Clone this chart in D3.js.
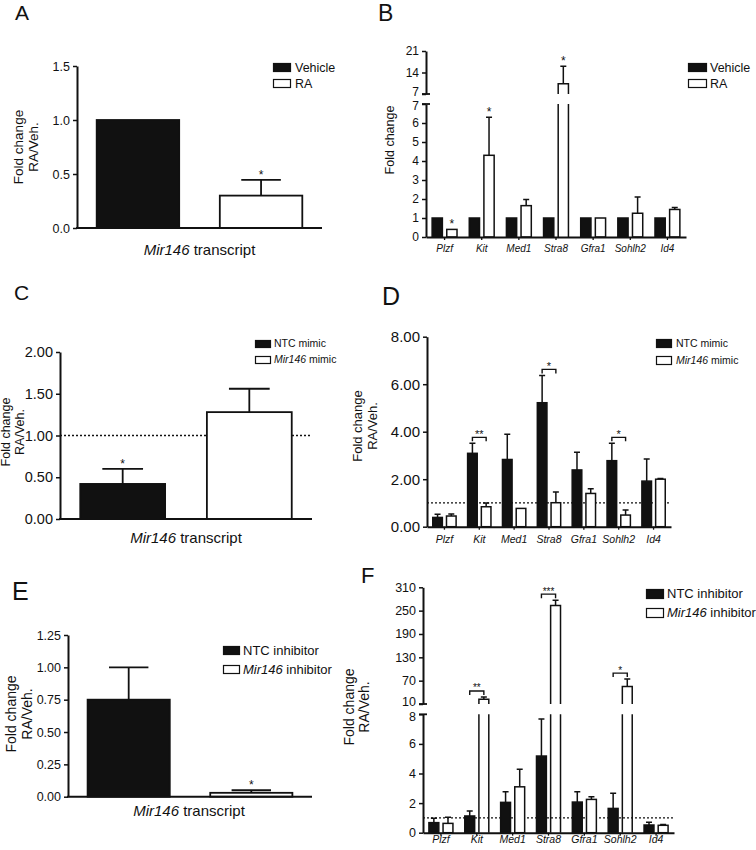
<!DOCTYPE html>
<html>
<head>
<meta charset="utf-8">
<script src="https://cdn.jsdelivr.net/npm/d3@7"></script>
<style>
  body { margin: 0; background: #fff; }
  svg { display: block; font-family: "Liberation Sans", Arial, sans-serif; }
</style>
</head>
<body>
<div id="fig"></div>
<script>
// ---- data ----
const genes = ["Plzf", "Kit", "Med1", "Stra8", "Gfra1", "Sohlh2", "Id4"];

// A
const aSeries = ["Vehicle", "RA"];
const aMean = [1.0, 0.30];
const aSem = [0, 0.145];
const aStars = ["", "*"];
const aTicks = [0, 0.5, 1.0, 1.5];

// B
const bSeries = ["Vehicle", "RA"];
const bVehicle = [1, 1, 1, 1, 1, 1, 1];
const bVehicleSem = [0, 0, 0, 0, 0, 0, 0];
const bRA = [0.4, 4.3, 1.65, 10.3, 1.0, 1.25, 1.45];
const bRASem = [0, 2.0, 0.32, 5.7, 0, 0.85, 0.1];
const bStars = ["*", "*", "", "*", "", "", ""];
const bTicksLow = [0, 1, 2, 3, 4, 5, 6, 7];
const bTicksHigh = [7, 14, 21];

// C
const cSeries = ["NTC mimic", "Mir146 mimic"];
const cMean = [0.42, 1.28];
const cSem = [0.18, 0.28];
const cStars = ["*", ""];
const cTicks = [0, 0.5, 1.0, 1.5, 2.0];

// D
const dSeries = ["NTC mimic", "Mir146 mimic"];
const dNTC = [0.39, 3.09, 2.83, 5.22, 2.39, 2.78, 1.92];
const dNTCSem = [0.13, 0.42, 1.06, 1.15, 0.74, 0.73, 0.93];
const dMimic = [0.45, 0.84, 0.77, 1.01, 1.40, 0.49, 2.0];
const dMimicSem = [0.08, 0.16, 0, 0.45, 0.2, 0.21, 0.03];
const dStars = ["", "**", "", "*", "", "*", ""];
const dTicks = [0, 2, 4, 6, 8];

// E
const eSeries = ["NTC inhibitor", "Mir146 inhibitor"];
const eMean = [0.75, 0.03];
const eSem = [0.25, 0.02];
const eStars = ["", "*"];
const eTicks = [0, 0.25, 0.5, 0.75, 1.0, 1.25];

// F
const fSeries = ["NTC inhibitor", "Mir146 inhibitor"];
const fNTC = [0.68, 1.13, 2.05, 5.18, 2.07, 1.64, 0.52];
const fNTCSem = [0.29, 0.33, 0.72, 2.5, 0.7, 1.02, 0.18];
const fInhib = [0.63, 22, 3.1, 263, 2.25, 55, 0.5];
const fInhibSem = [0.41, 6, 1.18, 14, 0.18, 19, 0.06];
const fStars = ["", "**", "", "***", "", "*", ""];
const fTicksLow = [0, 2, 4, 6, 8];
const fTicksHigh = [10, 70, 130, 190, 250, 310];

// ---- drawing ----
const svg = d3.select("#fig").append("svg")
    .attr("width", 756)
    .attr("height", 850);

svg.append("rect").attr("width", 756).attr("height", 850).attr("fill", "#fff");

const ink = "#111";

function panelLetter(t, x, y, size) {
    svg.append("text").attr("x", x).attr("y", y)
        .attr("font-size", size).attr("fill", ink).text(t);
}

// label with an italic "Mir146" part
function richLabel(sel, label) {
    if (label.startsWith("Mir146")) {
        sel.append("tspan").attr("font-style", "italic").text("Mir146");
        sel.append("tspan").text(label.slice(6));
    } else {
        sel.text(label);
    }
}

function legend(series, o) {
    const g = svg.append("g").attr("transform", `translate(${o.x},${o.y})`);
    series.forEach((s, i) => {
        g.append("rect")
            .attr("x", 0.5).attr("y", i * o.gap + 0.5)
            .attr("width", o.w).attr("height", o.h)
            .attr("fill", i === 0 ? ink : "#fff")
            .attr("stroke", ink).attr("stroke-width", 1.2);
        const t = g.append("text")
            .attr("x", o.w + o.dx)
            .attr("y", i * o.gap + o.h / 2 + o.size * 0.36)
            .attr("font-size", o.size).attr("fill", ink);
        richLabel(t, s);
    });
}

function yLabel(lines, cx, cy, size, lh) {
    const g = svg.append("g").attr("transform", `translate(${cx},${cy}) rotate(-90)`);
    lines.forEach((l, i) => {
        g.append("text").attr("x", 0).attr("y", i * lh)
            .attr("text-anchor", "middle")
            .attr("font-size", size).attr("fill", ink).text(l);
    });
}

function styleAxis(g, fontSize) {
    g.select(".domain").attr("stroke", ink).attr("stroke-width", 2);
    g.selectAll(".tick line").attr("stroke", ink).attr("stroke-width", 1.5);
    g.selectAll(".tick text").attr("font-size", fontSize).attr("fill", ink)
        .attr("font-family", "Liberation Sans, Arial, sans-serif");
}

// one-comparison panels (A, C, E)
function singlePanel(cfg) {
    const y = d3.scaleLinear().domain(cfg.domain).range([cfg.yBottom, cfg.yTop]);
    const x = d3.scaleBand().domain(cfg.series).range([cfg.x0, cfg.x1])
        .paddingInner(0.33).paddingOuter(0.16);
    const g = svg.append("g");

    if (cfg.refLine != null) {
        g.append("line")
            .attr("x1", cfg.x0).attr("x2", cfg.x1)
            .attr("y1", y(cfg.refLine)).attr("y2", y(cfg.refLine))
            .attr("stroke", ink).attr("stroke-width", 1.3)
            .attr("stroke-dasharray", "2,2");
    }

    const data = cfg.series.map((s, i) => ({ s, m: cfg.mean[i], e: cfg.sem[i], star: cfg.stars[i], i }));

    g.selectAll(".err").data(data.filter(d => d.e > 0)).join("path")
        .attr("class", "err")
        .attr("d", d => {
            const cx = x(d.s) + x.bandwidth() / 2, hw = x.bandwidth() * 0.24;
            return `M${cx},${y(d.m)}V${y(d.m + d.e)}M${cx - hw},${y(d.m + d.e)}H${cx + hw}`;
        })
        .attr("stroke", ink).attr("stroke-width", 1.8).attr("fill", "none");

    g.selectAll(".bar").data(data).join("rect")
        .attr("class", "bar")
        .attr("x", d => x(d.s))
        .attr("y", d => y(d.m))
        .attr("width", x.bandwidth())
        .attr("height", d => cfg.yBottom - y(d.m))
        .attr("fill", d => d.i === 0 ? ink : "#fff")
        .attr("stroke", ink).attr("stroke-width", 1.8);

    g.selectAll(".star").data(data.filter(d => d.star)).join("text")
        .attr("class", "star")
        .attr("x", d => x(d.s) + x.bandwidth() / 2)
        .attr("y", d => y(d.m + d.e) - 1)
        .attr("text-anchor", "middle")
        .attr("font-size", 12).attr("fill", ink)
        .text(d => d.star);

    const ax = g.append("g").attr("transform", `translate(${cfg.x0},0)`)
        .call(d3.axisLeft(y).tickValues(cfg.ticks).tickFormat(cfg.fmt).tickSize(4).tickSizeOuter(0));
    styleAxis(ax, cfg.tickSize);

    g.append("line")
        .attr("x1", cfg.x0 - 1).attr("x2", cfg.x1)
        .attr("y1", cfg.yBottom).attr("y2", cfg.yBottom)
        .attr("stroke", ink).attr("stroke-width", 2);

    const t = g.append("text")
        .attr("x", (cfg.x0 + cfg.x1) / 2 + cfg.xlDx).attr("y", cfg.xlY)
        .attr("text-anchor", "middle").attr("font-size", 15).attr("fill", ink);
    richLabel(t, "Mir146 transcript");
}

// gene panels (B, D, F), optional broken axis
function groupedPanel(cfg) {
    const yL = d3.scaleLinear().domain(cfg.low.domain).range(cfg.low.range);
    const yH = cfg.high ? d3.scaleLinear().domain(cfg.high.domain).range(cfg.high.range) : null;
    const lowMax = cfg.low.domain[1];
    const base = cfg.low.range[0];
    const yv = v => (yH && v > lowMax) ? yH(v) : yL(v);

    const x0 = d3.scaleBand().domain(genes).range([cfg.x0, cfg.x1])
        .paddingInner(0.33).paddingOuter(0.165);
    const x1 = d3.scaleBand().domain([0, 1]).range([0, x0.bandwidth()]).paddingInner(0.3);
    const bw = x1.bandwidth();

    const g = svg.append("g");

    if (cfg.refLine != null) {
        g.append("line")
            .attr("x1", cfg.x0).attr("x2", cfg.x1)
            .attr("y1", yL(cfg.refLine)).attr("y2", yL(cfg.refLine))
            .attr("stroke", ink).attr("stroke-width", 1.3)
            .attr("stroke-dasharray", "2,2");
    }

    const bars = [];
    genes.forEach((gene, gi) => {
        [0, 1].forEach(si => {
            bars.push({
                gene, gi, si,
                m: cfg.vals[si][gi], e: cfg.sems[si][gi],
                xl: x0(gene) + x1(si)
            });
        });
    });

    // error bars
    g.selectAll(".err").data(bars.filter(d => d.e > 0)).join("path")
        .attr("class", "err")
        .attr("d", d => {
            const cx = d.xl + bw / 2, top = yv(d.m + d.e);
            return `M${cx},${yv(d.m)}V${top}M${cx - 3},${top}H${cx + 3}`;
        })
        .attr("stroke", ink).attr("stroke-width", 1.5).attr("fill", "none");

    // bars within the lower segment
    g.selectAll(".bar").data(bars.filter(d => !yH || d.m <= lowMax)).join("rect")
        .attr("class", "bar")
        .attr("x", d => d.xl).attr("y", d => yL(d.m))
        .attr("width", bw).attr("height", d => base - yL(d.m))
        .attr("fill", d => d.si === 0 ? ink : "#fff")
        .attr("stroke", ink).attr("stroke-width", 1.5);

    // bars crossing the break
    if (yH) {
        const tall = bars.filter(d => d.m > lowMax);
        g.selectAll(".tallLow").data(tall).join("path")
            .attr("class", "tallLow")
            .attr("d", d => `M${d.xl},${base}V${yL(lowMax)}M${d.xl + bw},${base}V${yL(lowMax)}`)
            .attr("stroke", ink).attr("stroke-width", 1.5).attr("fill", "none");
        g.selectAll(".tallHigh").data(tall).join("path")
            .attr("class", "tallHigh")
            .attr("d", d => `M${d.xl},${yH(cfg.high.domain[0])}V${yH(d.m)}H${d.xl + bw}V${yH(cfg.high.domain[0])}`)
            .attr("stroke", ink).attr("stroke-width", 1.5).attr("fill", "#fff");
    }

    // significance marks
    genes.forEach((gene, gi) => {
        const star = cfg.stars[gi];
        if (!star) return;
        const c0 = x0(gene) + x1(0) + bw / 2, c1 = x0(gene) + x1(1) + bw / 2;
        if (cfg.bracket) {
            const t0 = yv(cfg.vals[0][gi] + cfg.sems[0][gi]);
            const t1 = yv(cfg.vals[1][gi] + cfg.sems[1][gi]);
            const by = Math.min(t0, t1) - 6;
            g.append("path")
                .attr("d", `M${c0},${by + 4}V${by}H${c1}V${by + 4}`)
                .attr("stroke", ink).attr("stroke-width", 1.4).attr("fill", "none");
            g.append("text").attr("x", (c0 + c1) / 2).attr("y", by + 0.5)
                .attr("text-anchor", "middle").attr("font-size", cfg.starSize)
                .attr("fill", ink).text(star);
        } else {
            const tip = yv(cfg.vals[1][gi] + cfg.sems[1][gi]);
            g.append("text").attr("x", c1).attr("y", tip - 1.5)
                .attr("text-anchor", "middle").attr("font-size", cfg.starSize)
                .attr("fill", ink).text(star);
        }
    });

    // y axes
    const axL = g.append("g").attr("transform", `translate(${cfg.x0},0)`)
        .call(d3.axisLeft(yL).tickValues(cfg.low.ticks).tickFormat(cfg.fmt).tickSize(4).tickSizeOuter(0));
    styleAxis(axL, cfg.tickSize);
    if (yH) {
        const axH = g.append("g").attr("transform", `translate(${cfg.x0},0)`)
            .call(d3.axisLeft(yH).tickValues(cfg.high.ticks).tickFormat(cfg.fmt).tickSize(4).tickSizeOuter(0));
        styleAxis(axH, cfg.tickSize);
        // the two labels at the break sit close; nudge them apart a little
        axH.selectAll(".tick text").filter(d => d === cfg.high.domain[0]).attr("y", -2.5);
        axL.selectAll(".tick text").filter(d => d === lowMax).attr("y", 2);
        [cfg.high.range[0], cfg.low.range[1]].forEach(py => {
            g.append("line").attr("x1", cfg.x0 - 4).attr("x2", cfg.x0 + 4)
                .attr("y1", py).attr("y2", py)
                .attr("stroke", ink).attr("stroke-width", 1.8);
        });
    }

    // x axis with gene ticks
    const axB = g.append("g").attr("transform", `translate(0,${base})`)
        .call(d3.axisBottom(x0).tickSize(3).tickSizeOuter(0));
    axB.select(".domain").attr("stroke", ink).attr("stroke-width", 2);
    axB.selectAll(".tick line").attr("stroke", ink).attr("stroke-width", 1.3);
    axB.selectAll(".tick text").remove();
    g.selectAll(".gene").data(genes).join("text")
        .attr("class", "gene")
        .attr("x", d => x0(d) + x0.bandwidth() / 2)
        .attr("y", cfg.geneY)
        .attr("text-anchor", "middle")
        .attr("font-size", cfg.geneSize).attr("font-style", "italic")
        .attr("fill", ink).text(d => d);
}

// ---- A ----
panelLetter("A", 15, 20, 21);
singlePanel({
    series: aSeries, mean: aMean, sem: aSem, stars: aStars,
    domain: [0, 1.5], ticks: aTicks, fmt: d3.format(".1f"),
    x0: 77, x1: 322, yBottom: 228, yTop: 66, tickSize: 12.5,
    xlY: 255, xlDx: 0
});
legend(aSeries, { x: 273, y: 63, w: 17, h: 8, gap: 16, dx: 5, size: 12.5 });
yLabel(["Fold change", "RA/Veh."], 23, 147, 13.5, 15);

// ---- B ----
panelLetter("B", 378, 21, 23);
groupedPanel({
    vals: [bVehicle, bRA], sems: [bVehicleSem, bRASem], stars: bStars,
    low: { domain: [0, 7], range: [237, 104], ticks: bTicksLow },
    high: { domain: [7, 21], range: [94, 51], ticks: bTicksHigh },
    fmt: d3.format("d"), x0: 426, x1: 686, tickSize: 12,
    bracket: false, starSize: 12, geneY: 252, geneSize: 10
});
legend(bSeries, { x: 688, y: 63, w: 18, h: 8, gap: 16, dx: 4, size: 12.5 });
yLabel(["Fold change"], 394, 140, 12.5, 14);

// ---- C ----
panelLetter("C", 14, 300, 21);
singlePanel({
    series: cSeries, mean: cMean, sem: cSem, stars: cStars,
    domain: [0, 2], ticks: cTicks, fmt: d3.format(".2f"),
    x0: 60, x1: 312, yBottom: 519, yTop: 352, tickSize: 14.5,
    refLine: 1, xlY: 543, xlDx: 0
});
legend(cSeries, { x: 255, y: 340, w: 15, h: 7, gap: 16, dx: 4, size: 10.5 });
yLabel(["Fold change", "RA/Veh."], 9.5, 432, 12.5, 14);

// ---- D ----
panelLetter("D", 382, 305, 25);
groupedPanel({
    vals: [dNTC, dMimic], sems: [dNTCSem, dMimicSem], stars: dStars,
    low: { domain: [0, 8], range: [526.7, 336.7], ticks: dTicks },
    fmt: d3.format(".2f"), x0: 427, x1: 671, tickSize: 15,
    refLine: 1, bracket: true, starSize: 11, geneY: 543, geneSize: 10.5
});
legend(dSeries, { x: 656, y: 339, w: 15, h: 8, gap: 17, dx: 5, size: 10.5 });
yLabel(["Fold change", "RA/Veh."], 362, 426, 13, 15);

// ---- E ----
panelLetter("E", 12, 600, 25);
singlePanel({
    series: eSeries, mean: eMean, sem: eSem, stars: eStars,
    domain: [0, 1.25], ticks: eTicks, fmt: d3.format(".2f"),
    x0: 68, x1: 312, yBottom: 796.7, yTop: 635, tickSize: 12.5,
    xlY: 816, xlDx: -1
});
legend(eSeries, { x: 223, y: 646, w: 16, h: 8, gap: 19, dx: 4, size: 13 });
yLabel(["Fold change", "RA/Veh."], 16, 714, 14, 15.5);

// ---- F ----
panelLetter("F", 361, 583, 22);
groupedPanel({
    vals: [fNTC, fInhib], sems: [fNTCSem, fInhibSem], stars: fStars,
    low: { domain: [0, 8], range: [832.7, 714.3], ticks: fTicksLow },
    high: { domain: [10, 310], range: [704, 587.3], ticks: fTicksHigh },
    fmt: d3.format("d"), x0: 423, x1: 674, tickSize: 12.5,
    refLine: 1, bracket: true, starSize: 10, geneY: 843, geneSize: 10.5
});
legend(fSeries, { x: 646, y: 589, w: 17, h: 9, gap: 19, dx: 4, size: 13 });
yLabel(["Fold change", "RA/Veh."], 354, 707, 14, 15);
</script>
</body>
</html>
